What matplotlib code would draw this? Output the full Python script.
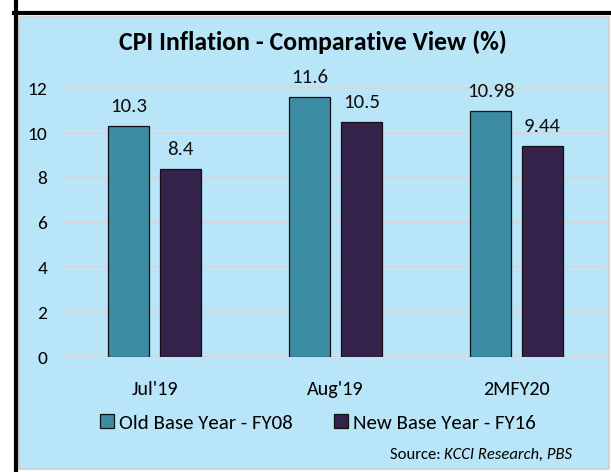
import matplotlib
matplotlib.use("Agg")
import matplotlib.pyplot as plt
import numpy as np
from matplotlib.patches import Rectangle
from matplotlib.lines import Line2D

# data
categories = ["Jul'19", "Aug'19", "2MFY20"]
old_base = [10.3, 11.6, 10.98]
new_base = [8.4, 10.5, 9.44]
old_labels = ["10.3", "11.6", "10.98"]
new_labels = ["8.4", "10.5", "9.44"]
series_names = ["Old Base Year - FY08", "New Base Year - FY16"]
yticks = [0, 2, 4, 6, 8, 10, 12]

teal = "#3C8CA4"
purple = "#35224A"
panel = "#B9E5F9"
grid = "#D6D6D6"

plt.rcParams['font.family'] = ['Carlito', 'Lato', 'DejaVu Sans']

W, H = 611, 472
fig = plt.figure(figsize=(W / 100, H / 100), dpi=100)
fig.patch.set_facecolor("white")

# light blue panel and black frame lines
fig.patches.append(Rectangle((19 / W, 1 - 469 / H), 590 / W, 452 / H,
                             transform=fig.transFigure, facecolor=panel,
                             edgecolor="#CFCFCF", lw=1.2, zorder=-5))
fig.lines.append(Line2D([15.5 / W, 15.5 / W], [0, 1], transform=fig.transFigure,
                        color="black", lw=3, zorder=-4))
fig.lines.append(Line2D([14 / W, 1], [1 - 13 / H, 1 - 13 / H], transform=fig.transFigure,
                        color="black", lw=3, zorder=-4))

ax = fig.add_axes([64 / W, 1 - 357 / H, (607 - 64) / W, (357 - 66) / H])
ax.set_facecolor("none")

x = np.arange(len(categories))
w = 0.226
off = 0.142
b1 = ax.bar(x - off, old_base, w, color=teal, edgecolor="#111111", lw=0.9,
            label=series_names[0], zorder=3)
b2 = ax.bar(x + off, new_base, w, color=purple, edgecolor="#111111", lw=0.9,
            label=series_names[1], zorder=3)

for xi, v, t in zip(x - off, old_base, old_labels):
    ax.annotate(t, (xi, v), xytext=(0, 8), textcoords="offset points",
                ha="center", va="bottom", fontsize=15, color="#111111")
for xi, v, t in zip(x + off, new_base, new_labels):
    ax.annotate(t, (xi, v), xytext=(0, 8), textcoords="offset points",
                ha="center", va="bottom", fontsize=15, color="#111111")

ax.set_xlim(-0.5, 2.5)
ax.set_ylim(0, 13)
ax.set_yticks(yticks)
ax.set_xticks(x)
ax.set_xticklabels(categories)
ax.tick_params(axis="x", length=0, pad=17, labelsize=14.5)
ax.tick_params(axis="y", length=0, pad=12, labelsize=14)
ax.yaxis.grid(True, color=grid, lw=1.5, zorder=0)
for s in ax.spines.values():
    s.set_visible(False)

fig.text(313 / W, 1 - 42 / H, "CPI Inflation - Comparative View (%)",
         ha="center", va="center", fontsize=18.5, fontweight="bold")

fig.legend(handles=[b1, b2], loc="center", bbox_to_anchor=(318 / W, 1 - 423 / H),
           ncol=2, frameon=False, fontsize=15, handlelength=0.65, handleheight=0.65,
           handletextpad=0.25, columnspacing=2.0)

src = fig.text(572 / W, 1 - 459 / H, "KCCI Research, PBS", ha="right",
               va="baseline", fontsize=12, style="italic")
ax.annotate("Source: ", xy=(0, 1 - 459 / H), xycoords=(src, "figure fraction"),
            ha="right", va="baseline", fontsize=12, annotation_clip=False)

fig.savefig("out.png", dpi=100)
